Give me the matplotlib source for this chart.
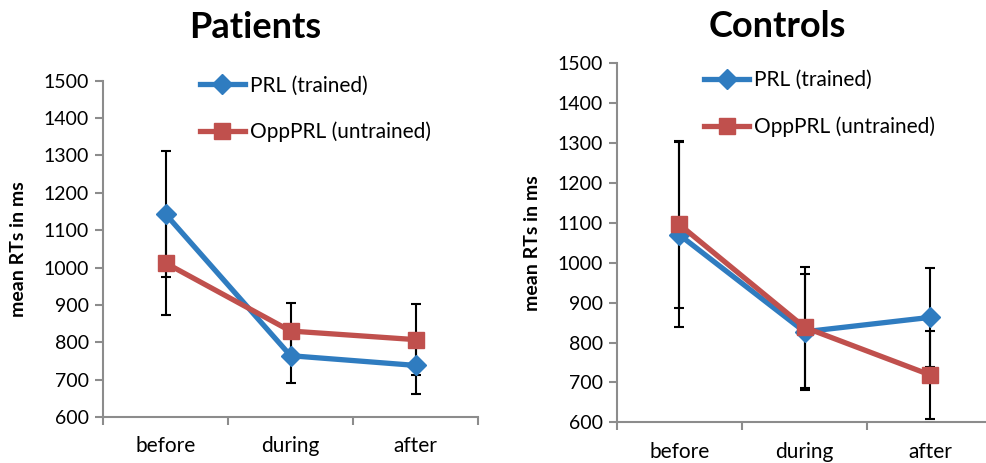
import matplotlib.pyplot as plt

plt.rcParams["font.family"] = ["Lato", "DejaVu Sans"]

phases = ["before", "during", "after"]

patients_prl = [1143, 764, 738]
patients_prl_err = [168, 72, 77]
patients_opp = [1012, 830, 807]
patients_opp_err = [140, 76, 94]

controls_prl = [1070, 827, 863]
controls_prl_err = [232, 145, 125]
controls_opp = [1096, 838, 719]
controls_opp_err = [210, 152, 110]

blue = "#2F7CC0"
red = "#C0504D"
grey = "#8C8C8C"

fig = plt.figure(figsize=(9.86, 4.63), dpi=100)
ax1 = fig.add_axes([0.1045, 0.0994, 0.3803, 0.7264])
ax2 = fig.add_axes([0.6254, 0.0879, 0.3813, 0.7754])


def draw(ax, prl, prl_err, opp, opp_err, leg_pos):
    x = range(len(phases))
    ax.errorbar(x, prl, yerr=prl_err, fmt="none", ecolor="black", elinewidth=1.5,
                capsize=3.8, capthick=1.5, zorder=2)
    ax.errorbar(x, opp, yerr=opp_err, fmt="none", ecolor="black", elinewidth=1.5,
                capsize=3.8, capthick=1.5, zorder=2)
    ax.plot(x, prl, color=blue, lw=3.8, marker="D", markersize=10, label="PRL (trained)", zorder=3)
    ax.plot(x, opp, color=red, lw=3.8, marker="s", markersize=12, label="OppPRL (untrained)", zorder=4)
    ax.set_xlim(-0.5, 2.5)
    ax.set_ylim(600, 1500)
    ax.set_yticks(range(600, 1501, 100))
    ax.set_xticks([-0.5, 0.5, 1.5, 2.5])
    ax.set_xticklabels([])
    ax.set_xticks(list(x), minor=True)
    ax.set_xticklabels(phases, minor=True, fontsize=15)
    ax.tick_params(axis="x", which="minor", length=0, pad=14)
    ax.tick_params(axis="x", which="major", length=6, color=grey, width=1.5)
    ax.tick_params(axis="y", length=6, color=grey, width=1.5, labelsize=14, pad=4)
    for s in ["top", "right"]:
        ax.spines[s].set_visible(False)
    for s in ["left", "bottom"]:
        ax.spines[s].set_color(grey)
        ax.spines[s].set_linewidth(1.5)
    ax.set_ylabel("mean RTs in ms", fontsize=14, fontweight="bold", labelpad=12)
    ax.legend(loc="upper left", bbox_to_anchor=leg_pos, frameon=False, fontsize=15,
              handlelength=2.15, handletextpad=0.25, labelspacing=1.25, borderaxespad=0)


draw(ax1, patients_prl, patients_prl_err, patients_opp, patients_opp_err, (0.236, 1.04))
draw(ax2, controls_prl, controls_prl_err, controls_opp, controls_opp_err, (0.211, 1.004))

fig.text(255 / 986, 1 - 38 / 463, "Patients", fontsize=26, fontweight="bold",
         ha="center", va="baseline")
fig.text(777 / 986, 1 - 37 / 463, "Controls", fontsize=26, fontweight="bold",
         ha="center", va="baseline")

fig.savefig("out.png", dpi=100)
